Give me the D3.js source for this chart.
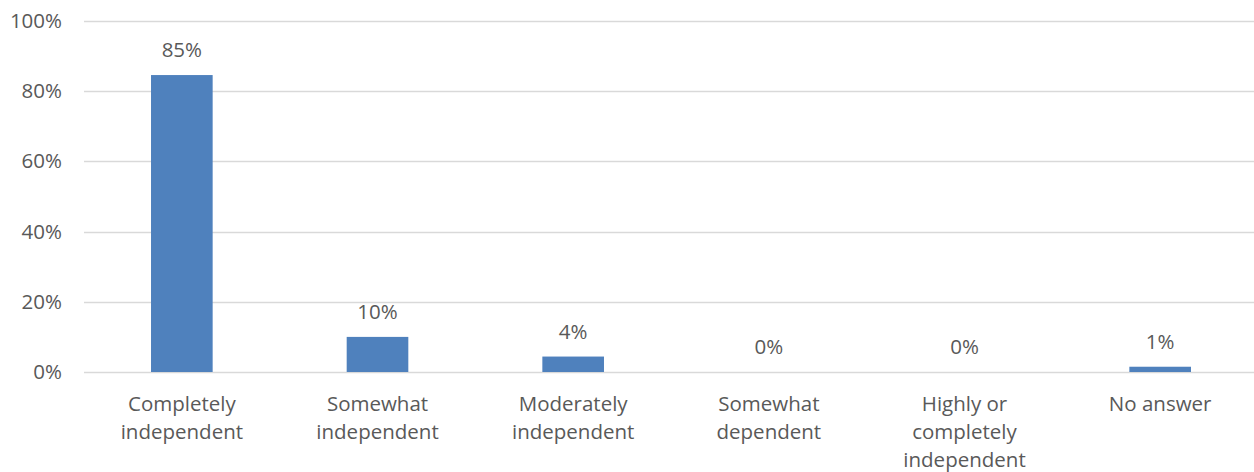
<!DOCTYPE html>
<html>
<head>
<meta charset="utf-8">
<script src="https://cdn.jsdelivr.net/npm/d3@7"></script>
<style>
	body{margin:0;background:#fff;}
	text{font-family:"Open Sans","Lato",sans-serif;fill:#595959;}
</style>
</head>
<body>
<div id="chart"></div>
<script>
// data
var categories = [
	["Completely","independent"],
	["Somewhat","independent"],
	["Moderately","independent"],
	["Somewhat","dependent"],
	["Highly or","completely","independent"],
	["No answer"]
];
var values = [84.6, 10, 4.4, 0, 0, 1.5];
var valueLabels = ["85%","10%","4%","0%","0%","1%"];
var yTicks = [0, 20, 40, 60, 80, 100];

var W = 1254, H = 472;
var margin = {top:21, right:-4, bottom:100, left:84};
var fontSize = "20.5px";

var svg = d3.select("#chart").append("svg")
	.attr("width", W).attr("height", H);

var x = d3.scaleBand()
	.domain(d3.range(categories.length))
	.range([margin.left, W - margin.right])
	.paddingInner(0.685).paddingOuter(0.3425);

var y = d3.scaleLinear()
	.domain([0,100])
	.range([H - margin.bottom, margin.top]);

// gridlines
svg.append("g")
	.selectAll("line")
	.data(yTicks)
	.enter().append("line")
	.attr("x1", margin.left).attr("x2", W)
	.attr("y1", function(d){ return Math.round(y(d)) + 0.5; })
	.attr("y2", function(d){ return Math.round(y(d)) + 0.5; })
	.attr("stroke", "#d9d9d9").attr("stroke-width", 1.5);

// y axis labels
var yAxis = d3.axisLeft(y).tickValues(yTicks)
	.tickFormat(function(d){ return d + "%"; })
	.tickSize(0).tickPadding(22);
var ya = svg.append("g")
	.attr("transform", "translate(" + margin.left + ",0)")
	.call(yAxis);
ya.select(".domain").remove();
ya.selectAll("text")
	.style("font-size", fontSize)
	.style("font-family",'"Open Sans","Lato",sans-serif')
	.attr("fill","#595959");

// bars
svg.append("g")
	.selectAll("rect")
	.data(values)
	.enter().append("rect")
	.attr("x", function(d,i){ return x(i); })
	.attr("width", x.bandwidth())
	.attr("y", function(d){ return y(d); })
	.attr("height", function(d){ return y(0) - y(d); })
	.attr("fill", "#4f81bd");

// value labels
svg.append("g")
	.selectAll("text")
	.data(values)
	.enter().append("text")
	.attr("x", function(d,i){ return x(i) + x.bandwidth()/2; })
	.attr("y", function(d){ return y(d) - 18; })
	.attr("text-anchor","middle")
	.style("font-size", fontSize)
	.text(function(d,i){ return valueLabels[i]; });

// category labels
var cat = svg.append("g")
	.selectAll("text")
	.data(categories)
	.enter().append("text")
	.attr("text-anchor","middle")
	.attr("transform", function(d,i){
		return "translate(" + (x(i) + x.bandwidth()/2) + "," + (y(0) + 39) + ")";
	})
	.style("font-size", fontSize);
cat.selectAll("tspan")
	.data(function(d){ return d; })
	.enter().append("tspan")
	.attr("x", 0)
	.attr("dy", function(d,i){ return i ? 28 : 0; })
	.text(function(d){ return d; });
</script>
</body>
</html>
